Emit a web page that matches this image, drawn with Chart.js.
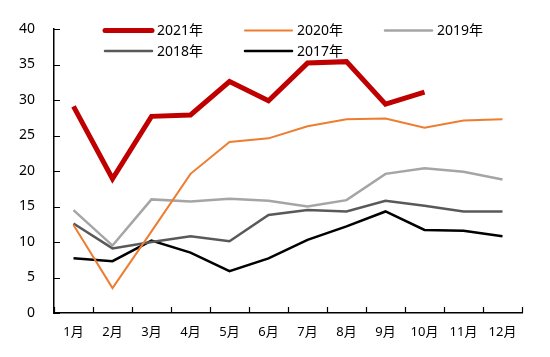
<!DOCTYPE html>
<html><head><meta charset="utf-8">
<script src="https://cdn.jsdelivr.net/npm/chart.js@4"></script>
<style>html,body{margin:0;padding:0;background:#fff}#wrap{width:550px;height:357px}</style>
</head><body><div id="wrap"><canvas id="c"></canvas></div>
<script>
const months = ["1月","2月","3月","4月","5月","6月","7月","8月","9月","10月","11月","12月"];
const yTicks = [0,5,10,15,20,25,30,35,40];
const labels = ["2021年","2020年","2019年","2018年","2017年"];
const y2021 = [29.1,18.9,27.7,27.9,32.6,29.9,35.2,35.4,29.4,31.1,null,null];
const y2020 = [12.4,3.5,11.5,19.6,24.1,24.6,26.3,27.3,27.4,26.1,27.1,27.3];
const y2019 = [14.5,9.5,16.0,15.7,16.1,15.8,15.0,15.9,19.6,20.4,19.9,18.8];
const y2018 = [12.6,9.1,10.0,10.8,10.1,13.8,14.5,14.3,15.8,15.1,14.3,14.3];
const y2017 = [7.7,7.3,10.2,8.5,5.9,7.7,10.3,12.2,14.3,11.7,11.6,10.8];
const colors = ["#C00000","#ED7D31","#A5A5A5","#595959","#000000"];
const widths = [5,2,2.5,2.5,2.5];
const series = [y2021,y2020,y2019,y2018,y2017];
const FONT = '"Noto Sans","Noto Sans CJK SC",sans-serif';

const datasets = series.map((d,i)=>({
  label: labels[i], data: d, borderColor: colors[i], backgroundColor: colors[i],
  borderWidth: widths[i], pointRadius: 0, tension: 0, fill: false,
  borderJoinStyle: 'miter', borderCapStyle: 'butt', spanGaps: false
}));

const innerTicks = {
  id: 'innerTicks',
  afterDraw(chart) {
    const ctx = chart.ctx, ca = chart.chartArea;
    const xs = chart.scales.x, ys = chart.scales.y;
    ctx.save();
    ctx.strokeStyle = '#000'; ctx.lineWidth = 1.2;
    ctx.beginPath();
    yTicks.forEach(v => {
      const y = Math.round(ys.getPixelForValue(v)) + 0.5;
      ctx.moveTo(ca.left, y); ctx.lineTo(ca.left + 6, y);
    });
    for (let i = 0; i <= months.length; i++) {
      const x = Math.round(xs.getPixelForValue(i - 0.5)) + 0.5;
      ctx.moveTo(x, ca.bottom); ctx.lineTo(x, ca.bottom - 6);
    }
    ctx.stroke();
    // legend
    const cols = [105, 245, 385];
    const rows = [30.5, 51];
    ctx.font = '14px ' + FONT;
    ctx.textBaseline = 'middle';
    ctx.textAlign = 'left';
    chart.data.datasets.forEach((ds, i) => {
      const cx = cols[i % 3], cy = rows[Math.floor(i / 3)];
      ctx.beginPath();
      ctx.strokeStyle = ds.borderColor;
      ctx.lineWidth = ds.borderWidth;
      ctx.lineCap = 'round';
      ctx.moveTo(cx, cy); ctx.lineTo(cx + 47, cy);
      ctx.stroke();
      ctx.fillStyle = '#000';
      ctx.fillText(ds.label, cx + 52, cy + 1);
    });
    ctx.restore();
  }
};

new Chart(document.getElementById('c'), {
  type: 'line',
  data: { labels: months, datasets },
  plugins: [innerTicks],
  options: {
    responsive: true, maintainAspectRatio: false, animation: false,
    layout: { padding: { top: 29, right: 28, left: 0, bottom: 0 } },
    plugins: { legend: { display: false }, tooltip: { enabled: false } },
    scales: {
      x: {
        offset: true,
        grid: { display: false, drawTicks: false },
        border: { display: true, color: '#000', width: 1.5 },
        ticks: { color: '#000', font: { size: 13, family: FONT }, padding: 11, maxRotation: 0, autoSkip: false },
        afterFit(s) { s.height = 44; }
      },
      y: {
        min: 0, max: 40,
        grid: { display: false, drawTicks: false },
        border: { display: true, color: '#000', width: 1.5 },
        ticks: { stepSize: 5, color: '#000', font: { size: 14, family: FONT }, padding: 19 },
        afterFit(s) { s.width = 54; }
      }
    }
  }
});
</script></body></html>
